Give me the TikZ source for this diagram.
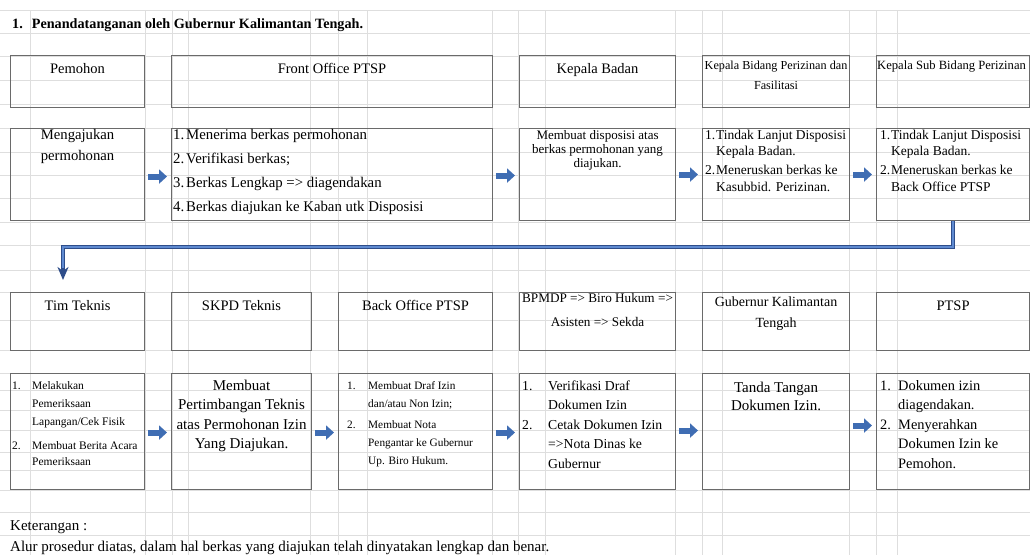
\documentclass[tikz,border=0pt]{standalone}
\usepackage{fontspec}
\setmainfont{Liberation Serif}
\usetikzlibrary{arrows.meta,calc}
\definecolor{gridc}{HTML}{DEDEDE}
\definecolor{boxc}{HTML}{6A6A6A}
\definecolor{arrc}{HTML}{3F6DB3}
\definecolor{linedark}{HTML}{2E4D8A}
\definecolor{linelight}{HTML}{5F8AD0}
\newcommand\fs[2]{\fontsize{#1}{#2}\selectfont}
\begin{document}
\begin{tikzpicture}[x=1pt,y=-1pt,
  box/.style={draw=boxc,line width=1.1pt,inner sep=0,anchor=north west},
  txt/.style={inner sep=0},
  blk/.style={arrc,line width=6pt,-{Triangle[length=8pt 0 0,width=14pt 0 0]}},
  connout/.style={linedark,line width=3.6pt,-{Stealth[length=13pt 0 0,width=11pt 0 0,inset=4pt]}},
  connin/.style={linelight,line width=1.6pt},
  gridl/.style={gridc,line width=0.6pt}]
\useasboundingbox (0,0) rectangle (1030,555);
\fill[white] (0,0) rectangle (1030,555);
% spreadsheet grid
\foreach \x in {30,145,172,188,310,338,367,492,518,545,675,702,722,849,876,897}
  \draw[gridl] (\x,10) -- (\x,555);
\foreach \y in {10,33,56,80,104,128,152,175,198,222,245,270,292,320,350,373,390,410,430,452,470,490,512,535}
  \draw[gridl] (0,\y) -- (1030,\y);

% title
\node[txt,anchor=base west] (title) at (12,28) {\fs{14.2}{16}\bfseries 1.\hspace{9pt}Penandatanganan oleh Gubernur Kalimantan Tengah.};

% ---------- row 1 headers
\node[box,minimum width=134pt,minimum height=52pt] (pemh) at (10,55) {};
\node[box,minimum width=321pt,minimum height=52pt] (foh) at (171,55) {};
\node[box,minimum width=156pt,minimum height=52pt] (kbh) at (519,55) {};
\node[box,minimum width=147pt,minimum height=52pt] (kbdh) at (702,55) {};
\node[box,minimum width=153pt,minimum height=52pt] (ksh) at (876,55) {};
\node[txt,anchor=base] (pemht) at ([yshift=-18pt]pemh.north) {\fs{14.5}{16}Pemohon};
\node[txt,anchor=base] (foht) at ([yshift=-18pt]foh.north) {\fs{14.5}{16}Front Office PTSP};
\node[txt,anchor=base] (kbht) at ([yshift=-18pt]kbh.north) {\fs{14.5}{16}Kepala Badan};
\node[txt,anchor=base] (kbdht) at ([yshift=-14pt]kbdh.north) {\fs{12.2}{20}\begin{tabular}[t]{@{}c@{}}Kepala Bidang Perizinan dan\\ Fasilitasi\end{tabular}};
\node[txt,anchor=base west] (ksht) at ([xshift=1pt,yshift=-14pt]ksh.north west) {\fs{12.6}{16}Kepala Sub Bidang Perizinan};

% ---------- row 1 contents
\node[box,minimum width=134pt,minimum height=92pt] (pemc) at (10,128) {};
\node[box,minimum width=321pt,minimum height=92pt] (foc) at (171,128) {};
\node[box,minimum width=156pt,minimum height=92pt] (kbc) at (519,128) {};
\node[box,minimum width=147pt,minimum height=92pt] (kbdc) at (702,128) {};
\node[box,minimum width=153pt,minimum height=92pt] (ksc) at (876,128) {};
\node[txt,anchor=base] (pemct) at ([yshift=-11pt]pemc.north) {\fs{14.7}{21}\begin{tabular}[t]{@{}c@{}}Mengajukan\\ permohonan\end{tabular}};
\node[txt,anchor=base west] (foct) at ([xshift=2pt,yshift=-11pt]foc.north west) {\fs{14.8}{24}\begin{tabular}[t]{@{}p{13pt}@{}l@{}}1. & Menerima berkas permohonan\\ 2. & Verifikasi berkas;\\ 3. & Berkas Lengkap => diagendakan\\ 4. & Berkas diajukan ke Kaban utk Disposisi\end{tabular}};
\node[txt,anchor=base] (kbct) at ([yshift=-11pt]kbc.north) {\fs{13}{14}\begin{tabular}[t]{@{}c@{}}Membuat disposisi atas\\ berkas permohonan yang\\ diajukan.\end{tabular}};
\node[txt,anchor=base west] (kbdct) at ([xshift=3pt,yshift=-11pt]kbdc.north west) {\fs{13.5}{16.5}\begin{tabular}[t]{@{}p{11pt}@{}l@{}}1. & Tindak Lanjut Disposisi\\ & Kepala Badan.\\[2.5pt] 2. & Meneruskan berkas ke\\ & Kasubbid. Perizinan.\end{tabular}};
\node[txt,anchor=base west] (ksct) at ([xshift=4pt,yshift=-11pt]ksc.north west) {\fs{13.5}{16.5}\begin{tabular}[t]{@{}p{11pt}@{}l@{}}1. & Tindak Lanjut Disposisi\\ & Kepala Badan.\\[2.5pt] 2. & Meneruskan berkas ke\\ & Back Office PTSP\end{tabular}};

% ---------- row 2 headers
\node[box,minimum width=134pt,minimum height=58pt] (tth) at (10,292) {};
\node[box,minimum width=140pt,minimum height=58pt] (skh) at (171,292) {};
\node[box,minimum width=154pt,minimum height=58pt] (boh) at (338,292) {};
\node[box,minimum width=156pt,minimum height=58pt] (bph) at (519,292) {};
\node[box,minimum width=147pt,minimum height=58pt] (gbh) at (702,292) {};
\node[box,minimum width=153pt,minimum height=58pt] (pth) at (876,292) {};
\node[txt,anchor=base] (ttht) at ([yshift=-18pt]tth.north) {\fs{14.5}{16}Tim Teknis};
\node[txt,anchor=base] (skht) at ([yshift=-18pt]skh.north) {\fs{14.5}{16}SKPD Teknis};
\node[txt,anchor=base] (boht) at ([yshift=-18pt]boh.north) {\fs{14.5}{16}Back Office PTSP};
\node[txt,anchor=base] (bpht) at ([yshift=-10pt]bph.north) {\fs{13.2}{24}\begin{tabular}[t]{@{}c@{}}BPMDP => Biro Hukum =>\\ Asisten => Sekda\end{tabular}};
\node[txt,anchor=base] (gbht) at ([yshift=-14pt]gbh.north) {\fs{14}{21}\begin{tabular}[t]{@{}c@{}}Gubernur Kalimantan\\ Tengah\end{tabular}};
\node[txt,anchor=base] (ptht) at ([yshift=-18pt]pth.north) {\fs{14.5}{16}PTSP};

% ---------- row 2 contents
\node[box,minimum width=134pt,minimum height=116pt] (ttc) at (10,373) {};
\node[box,minimum width=140pt,minimum height=116pt] (skc) at (171,373) {};
\node[box,minimum width=154pt,minimum height=116pt] (boc) at (338,373) {};
\node[box,minimum width=156pt,minimum height=116pt] (bpc) at (519,373) {};
\node[box,minimum width=147pt,minimum height=116pt] (gbc) at (702,373) {};
\node[box,minimum width=153pt,minimum height=116pt] (ptc) at (876,373) {};
\node[txt,anchor=base west] (ttct) at ([xshift=2pt,yshift=-16pt]ttc.north west) {\fs{11.5}{18}\begin{tabular}[t]{@{}p{20pt}@{}l@{}}1. & Melakukan\\ & Pemeriksaan\\ & Lapangan/Cek Fisik\\[6pt] 2. & Membuat Berita Acara\\[-2pt] & Pemeriksaan\end{tabular}};
\node[txt,anchor=base] (skct) at ([yshift=-17pt]skc.north) {\fs{15}{19.5}\begin{tabular}[t]{@{}c@{}}Membuat\\ Pertimbangan Teknis\\ atas Permohonan Izin\\ Yang Diajukan.\end{tabular}};
\node[txt,anchor=base west] (boct) at ([xshift=9pt,yshift=-16pt]boc.north west) {\fs{11.3}{18}\begin{tabular}[t]{@{}p{21pt}@{}l@{}}1. & Membuat Draf Izin\\ & dan/atau Non Izin;\\[3pt] 2. & Membuat Nota\\ & Pengantar ke Gubernur\\ & Up. Biro Hukum.\end{tabular}};
\node[txt,anchor=base west] (bpct) at ([xshift=3pt,yshift=-17pt]bpc.north west) {\fs{13.7}{19.5}\begin{tabular}[t]{@{}p{26pt}@{}l@{}}1. & Verifikasi Draf\\ & Dokumen Izin\\ 2. & Cetak Dokumen Izin\\ & =>Nota Dinas ke\\ & Gubernur\end{tabular}};
\node[txt,anchor=base] (gbct) at ([yshift=-19pt]gbc.north) {\fs{15}{18}\begin{tabular}[t]{@{}c@{}}Tanda Tangan\\ Dokumen Izin.\end{tabular}};
\node[txt,anchor=base west] (ptct) at ([xshift=4pt,yshift=-17pt]ptc.north west) {\fs{14.4}{19.5}\begin{tabular}[t]{@{}p{18pt}@{}l@{}}1. & Dokumen izin\\ & diagendakan.\\ 2. & Menyerahkan\\ & Dokumen Izin ke\\ & Pemohon.\end{tabular}};

% ---------- block arrows row 1
\draw[blk] ([xshift=3pt,yshift=-2pt]pemc.east) -- ([xshift=-4pt,yshift=-2pt]foc.west);
\draw[blk] ([xshift=3pt,yshift=-1pt]foc.east) -- ([xshift=-4pt,yshift=-1pt]kbc.west);
\draw[blk] ([xshift=3pt]kbc.east) -- ([xshift=-4pt]kbdc.west);
\draw[blk] ([xshift=3pt]kbdc.east) -- ([xshift=-4pt]ksc.west);
% ---------- block arrows row 2
\draw[blk] ([xshift=3pt,yshift=-1pt]ttc.east) -- ([xshift=-4pt,yshift=-1pt]skc.west);
\draw[blk] ([xshift=3pt,yshift=-1pt]skc.east) -- ([xshift=-4pt,yshift=-1pt]boc.west);
\draw[blk] ([xshift=3pt,yshift=-1pt]boc.east) -- ([xshift=-4pt,yshift=-1pt]bpc.west);
\draw[blk] ([xshift=3pt,yshift=1pt]bpc.east) -- ([xshift=-4pt,yshift=1pt]gbc.west);
\draw[blk] ([xshift=3pt,yshift=6pt]gbc.east) -- ([xshift=-4pt,yshift=6pt]ptc.west);

% ---------- long connector
\coordinate (bend) at (63,247);
\coordinate (ttin) at (63,280);
\draw[connout] (ksc.south) |- (bend) -- (ttin);
\draw[connin,shorten >=12pt] (ksc.south) |- (bend) -- (ttin);

% ---------- notes
\node[txt,anchor=base west] (ket) at (10,530) {\fs{15}{16}Keterangan :};
\node[txt,anchor=base west] (alur) at (10,551) {\fs{15}{16}Alur prosedur diatas, dalam hal berkas yang diajukan telah dinyatakan lengkap dan benar.};
\end{tikzpicture}
\end{document}
